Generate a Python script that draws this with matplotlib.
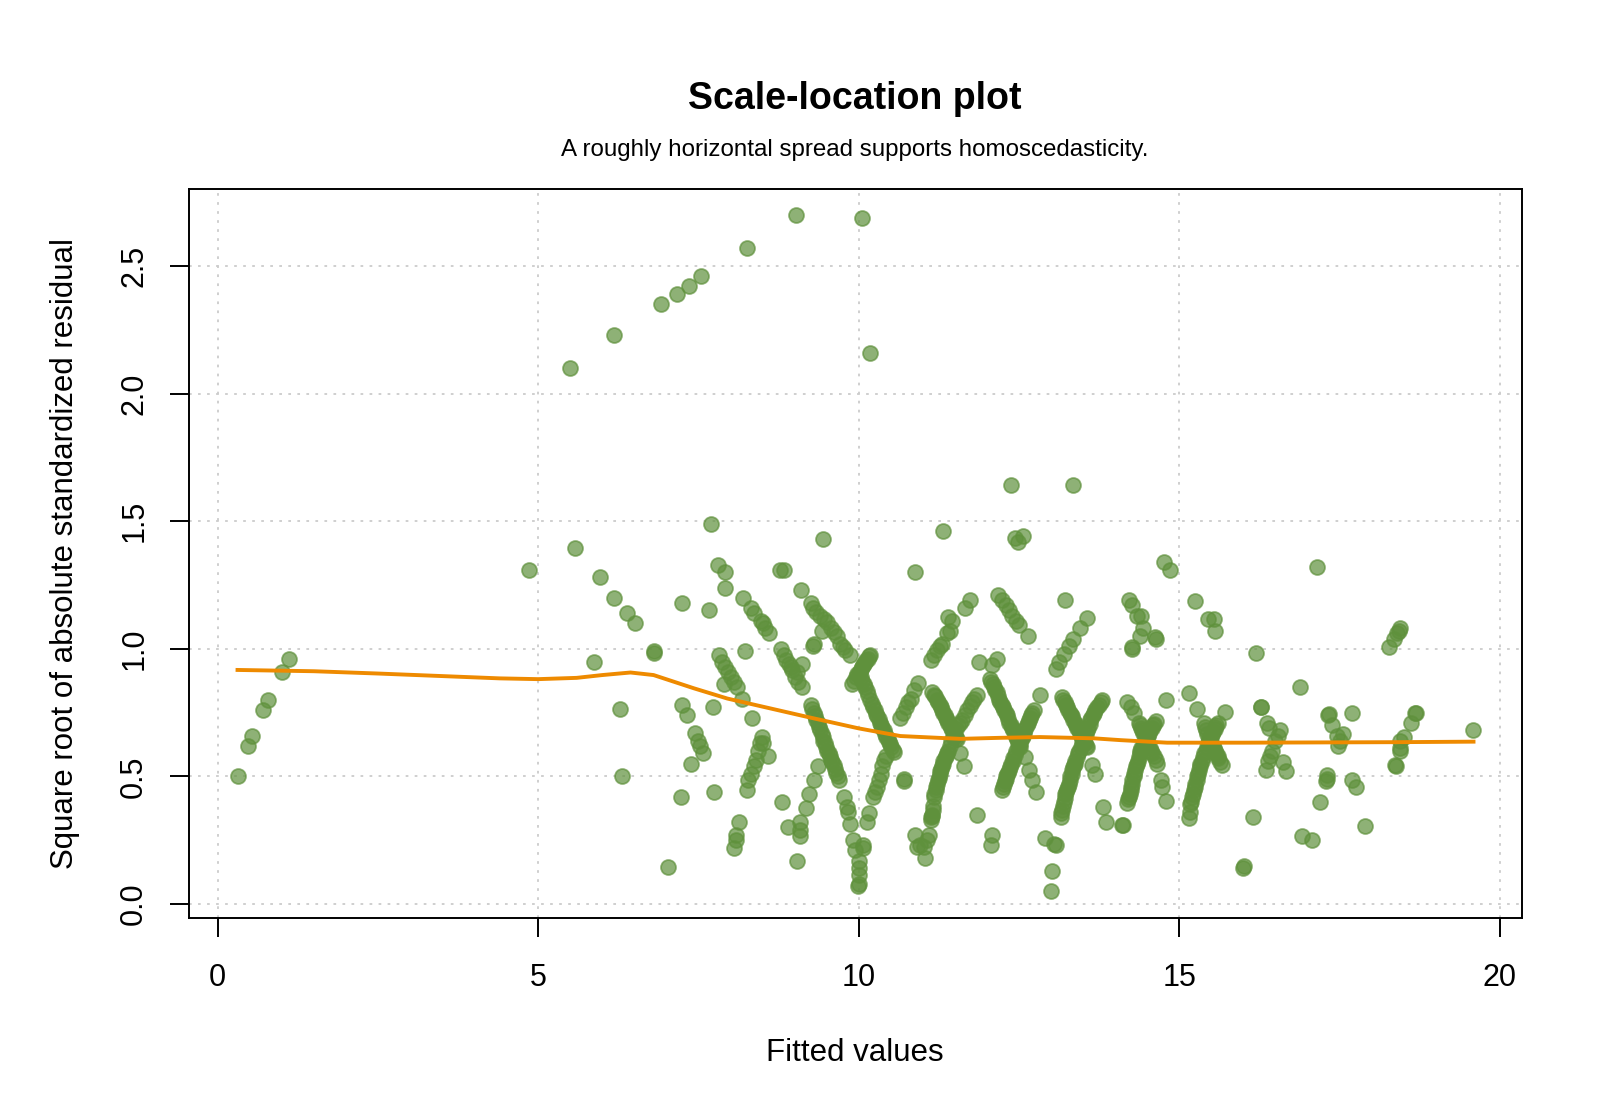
"""plot.py

Scale-location plot: square root of |standardized residual| against fitted
values, with a loess-style smoother drawn over the points.
"""

import numpy as np
import matplotlib

matplotlib.use("Agg")
import matplotlib.pyplot as plt


# --------------------------------------------------------------------------- #
# Data
# --------------------------------------------------------------------------- #
fitted = np.array([
    # low fitted values
    0.31, 0.47, 0.53, 0.71, 0.78, 1.01, 1.12,
    # upper outliers
    5.49, 6.18, 6.92, 7.16, 7.35, 7.54, 8.25, 9.02, 10.05, 10.18,
    # 4.8 - 8.8
    4.86, 5.57, 5.97, 6.19, 6.38, 6.51, 7.25, 7.67, 7.70, 7.81, 7.91, 7.91,
    8.20, 8.32, 8.36, 8.47, 8.51, 8.54, 8.60, 8.77,
    5.87, 6.80, 6.81, 8.22,
    7.82, 7.87, 7.92, 7.96, 8.01, 8.05, 8.10, 8.18, 7.90,
    6.27, 7.73, 8.34, 7.24, 7.32, 7.44, 7.50, 7.53, 7.57, 7.38, 6.31, 7.22, 7.75, 7.03,
    8.49, 8.51, 8.46, 8.58, 8.39, 8.36, 8.32, 8.28, 8.26, 8.43,
    8.13, 8.09, 8.08, 8.06, 8.81,
    # 8.8 - 11.9
    9.44, 8.84, 9.10,
    9.25, 9.28, 9.34, 9.40, 9.46, 9.51, 9.56, 9.61, 9.66, 9.71, 9.75, 9.79, 9.87,
    9.43, 9.30, 9.28,
    8.78, 8.83, 8.87, 8.91, 8.96, 9.01, 9.06, 9.12, 9.12, 8.94, 9.03,
    9.25, 9.30, 9.34, 9.38, 9.42, 9.45, 9.49, 9.53, 9.57, 9.61, 9.65, 9.69,
    9.36, 9.30, 9.22, 9.18,
    8.89, 9.09, 9.09, 9.09, 9.04,
    9.77, 9.81, 9.83, 9.87, 9.91, 9.94, 10.00, 10.01, 10.01, 9.99, 10.00,
    10.07, 10.06, 10.16, 10.13,
    9.90, 9.95, 10.00, 10.03, 10.06, 10.10, 10.14, 10.18,
    10.03, 10.08, 10.13, 10.18, 10.23, 10.27, 10.31, 10.35, 10.39, 10.43, 10.47, 10.51, 10.55,
    10.23, 10.26, 10.29, 10.31, 10.34, 10.36, 10.39, 10.42,
    10.70, 10.71,
    10.65, 10.69, 10.73, 10.77, 10.81, 10.87, 10.92,
    10.88, 11.32,
    11.12, 11.17, 11.22, 11.26, 11.30,
    11.40, 11.46, 11.37, 11.42,
    11.15, 11.19, 11.22, 11.26, 11.30, 11.34, 11.38, 11.42, 11.46, 11.50, 11.53, 11.58,
    11.12, 11.13, 11.15, 11.16, 11.17, 11.20, 11.22, 11.25, 11.27, 11.30, 11.32, 11.36,
    11.40, 11.44, 11.49, 11.55, 11.61, 11.69, 11.77, 11.84,
    10.88, 10.96, 10.91, 11.02, 11.04, 11.09, 11.06,
    11.64, 11.85,
    # 11.6 - 14.4
    12.37, 13.35, 12.44, 12.49, 12.57,
    11.73, 11.66,
    12.18, 12.23, 12.29, 12.34, 12.39, 12.45, 12.50, 12.64,
    13.22,
    13.07, 13.12, 13.20, 13.28, 13.35, 13.45, 13.56,
    11.87, 12.08, 12.16, 12.83,
    12.05, 12.09, 12.13, 12.17, 12.21, 12.25, 12.29, 12.33, 12.37, 12.41, 12.45, 12.49, 12.52,
    12.24, 12.27, 12.29, 12.32, 12.34, 12.38, 12.41, 12.46, 12.50, 12.54, 12.58, 12.62,
    12.65, 12.69, 12.73,
    12.60, 12.65, 12.71, 12.76,
    13.17, 13.21, 13.25, 13.29, 13.33, 13.37, 13.41, 13.45, 13.49, 13.53, 13.56,
    13.64, 13.68,
    13.15, 13.17, 13.20, 13.22, 13.25, 13.28, 13.30, 13.33, 13.36, 13.38, 13.42, 13.46,
    13.50, 13.54, 13.58, 13.61, 13.65, 13.69, 13.75, 13.80,
    12.08, 12.07, 12.91, 13.07, 13.05, 13.02, 13.00,
    13.81, 13.86, 14.11,
    14.21, 14.26, 14.34, 14.26,
    # 14.2 - 17.1
    14.76, 14.86, 14.41, 14.44, 14.39, 14.27, 14.64, 14.62,
    15.24, 15.45, 15.54, 15.56,
    16.20, 17.15, 16.89, 16.27, 16.28, 15.15, 15.28, 15.72, 14.80,
    14.19, 14.24, 14.29,
    14.37, 14.40, 14.44, 14.48, 14.52, 14.56, 14.60, 14.66,
    14.19, 14.21, 14.24, 14.26, 14.29, 14.31, 14.34, 14.37, 14.39, 14.43, 14.47, 14.51,
    14.55, 14.59, 14.63,
    14.71, 14.73, 14.80, 14.12,
    15.15, 15.17, 15.20, 15.23, 15.25, 15.28, 15.31, 15.33, 15.37, 15.41, 15.45, 15.49,
    15.53, 15.56, 15.60,
    15.38, 15.42, 15.46, 15.50, 15.54, 15.58, 15.61, 15.67,
    16.15, 16.01, 16.00,
    16.35, 16.38, 16.42, 16.45, 16.50, 16.54, 16.57, 16.37, 16.40,
    16.62, 16.66, 16.91, 17.07,
    # above 17
    17.32, 17.33, 17.39, 17.46, 17.56, 17.47, 17.50, 17.70,
    17.31, 17.29, 17.30, 17.70, 17.75, 17.20, 17.89,
    18.27, 18.35, 18.40, 18.45, 18.43,
    18.68, 18.69, 18.62, 18.50, 18.45, 18.45, 18.44, 18.38, 18.37,
    19.58,
])

sqrt_abs_resid = np.array([
    # low fitted values
    0.50, 0.62, 0.66, 0.76, 0.80, 0.91, 0.96,
    # upper outliers
    2.10, 2.23, 2.35, 2.39, 2.42, 2.46, 2.57, 2.70, 2.69, 2.16,
    # 4.8 - 8.8
    1.31, 1.395, 1.28, 1.20, 1.14, 1.10, 1.18, 1.15, 1.49, 1.33, 1.30, 1.24,
    1.20, 1.16, 1.14, 1.11, 1.10, 1.08, 1.06, 1.31,
    0.95, 0.985, 0.99, 0.99,
    0.975, 0.95, 0.93, 0.91, 0.89, 0.87, 0.85, 0.805, 0.86,
    0.765, 0.77, 0.73, 0.78, 0.74, 0.67, 0.64, 0.62, 0.59, 0.55, 0.50, 0.42, 0.44, 0.145,
    0.655, 0.63, 0.63, 0.58, 0.565, 0.54, 0.51, 0.485, 0.445, 0.60,
    0.32, 0.27, 0.25, 0.22, 0.40,
    # 8.8 - 11.9
    1.43, 1.31, 1.23,
    1.18, 1.16, 1.145, 1.13, 1.115, 1.105, 1.08, 1.065, 1.05, 1.02, 1.005, 0.995, 0.975,
    1.07, 1.02, 1.01,
    1.00, 0.975, 0.955, 0.94, 0.915, 0.89, 0.87, 0.85, 0.94, 0.93, 0.91,
    0.78, 0.75, 0.72, 0.695, 0.665, 0.64, 0.615, 0.59, 0.565, 0.545, 0.515, 0.485,
    0.54, 0.485, 0.43, 0.375,
    0.30, 0.32, 0.29, 0.265, 0.17,
    0.42, 0.38, 0.36, 0.315, 0.25, 0.21, 0.17, 0.14, 0.115, 0.07, 0.08,
    0.23, 0.22, 0.355, 0.32,
    0.86, 0.89, 0.905, 0.92, 0.935, 0.95, 0.96, 0.975,
    0.89, 0.86, 0.835, 0.80, 0.77, 0.745, 0.725, 0.70, 0.68, 0.655, 0.635, 0.615, 0.595,
    0.42, 0.44, 0.46, 0.485, 0.51, 0.54, 0.565, 0.58,
    0.49, 0.48,
    0.73, 0.75, 0.77, 0.79, 0.805, 0.84, 0.865,
    1.30, 1.46,
    0.955, 0.975, 0.995, 1.01, 1.02,
    1.125, 1.11, 1.06, 1.07,
    0.83, 0.815, 0.80, 0.78, 0.76, 0.74, 0.72, 0.70, 0.68, 0.66, 0.645, 0.59,
    0.33, 0.34, 0.35, 0.385, 0.42, 0.445, 0.47, 0.495, 0.52, 0.54, 0.56, 0.58,
    0.60, 0.64, 0.67, 0.70, 0.72, 0.76, 0.79, 0.82,
    0.27, 0.23, 0.225, 0.225, 0.18, 0.27, 0.25,
    0.54, 0.35,
    # 11.6 - 14.4
    1.64, 1.64, 1.435, 1.42, 1.44,
    1.19, 1.16,
    1.21, 1.19, 1.17, 1.15, 1.13, 1.11, 1.095, 1.05,
    1.19,
    0.92, 0.95, 0.98, 1.01, 1.04, 1.08, 1.12,
    0.95, 0.935, 0.96, 0.82,
    0.88, 0.86, 0.84, 0.815, 0.79, 0.77, 0.75, 0.725, 0.70, 0.68, 0.655, 0.635, 0.615,
    0.445, 0.47, 0.49, 0.51, 0.525, 0.55, 0.57, 0.60, 0.63, 0.65, 0.67, 0.70,
    0.72, 0.74, 0.76,
    0.577, 0.525, 0.485, 0.44,
    0.81, 0.79, 0.77, 0.75, 0.735, 0.71, 0.69, 0.67, 0.65, 0.63, 0.615,
    0.545, 0.51,
    0.34, 0.37, 0.40, 0.43, 0.45, 0.47, 0.50, 0.525, 0.545, 0.56, 0.59, 0.615,
    0.64, 0.665, 0.69, 0.72, 0.74, 0.76, 0.78, 0.80,
    0.27, 0.23, 0.26, 0.23, 0.235, 0.13, 0.05,
    0.38, 0.32, 0.31,
    1.19, 1.17, 1.13, 1.00,
    # 14.2 - 17.1
    1.34, 1.31, 1.13, 1.08, 1.05, 1.007, 1.04, 1.045,
    1.186, 1.115, 1.115, 1.07,
    0.985, 1.32, 0.85, 0.77, 0.77, 0.825, 0.765, 0.753, 0.80,
    0.79, 0.77, 0.75,
    0.71, 0.69, 0.67, 0.645, 0.62, 0.60, 0.58, 0.55,
    0.395, 0.42, 0.445, 0.47, 0.50, 0.525, 0.55, 0.575, 0.60, 0.62, 0.64, 0.66,
    0.68, 0.70, 0.715,
    0.485, 0.46, 0.405, 0.31,
    0.335, 0.39, 0.42, 0.445, 0.47, 0.50, 0.525, 0.55, 0.575, 0.60, 0.63, 0.655,
    0.675, 0.695, 0.71,
    0.71, 0.68, 0.65, 0.63, 0.61, 0.59, 0.57, 0.545,
    0.34, 0.15, 0.14,
    0.525, 0.56, 0.58, 0.60, 0.64, 0.66, 0.68, 0.71, 0.69,
    0.557, 0.52, 0.267, 0.25,
    # above 17
    0.74, 0.745, 0.70, 0.66, 0.665, 0.62, 0.64, 0.75,
    0.505, 0.48, 0.49, 0.486, 0.46, 0.40, 0.307,
    1.007, 1.04, 1.06, 1.08, 1.07,
    0.75, 0.75, 0.71, 0.655, 0.64, 0.60, 0.61, 0.54, 0.545,
    0.68,
])

# extra overlapping points inside the densest diagonal streaks
dense_fitted = np.array([
    10.05, 10.10, 10.15, 10.20, 10.25, 10.29, 10.33, 10.37, 10.41, 10.45, 10.49, 10.53,
    11.14, 11.16, 11.18, 11.21, 11.24, 11.26, 11.29, 11.31, 11.34, 11.38, 11.42, 11.47,
    11.52, 11.58, 11.65, 11.73, 11.80,
    11.17, 11.24, 11.28, 11.32, 11.36, 11.40, 11.44, 11.48, 11.52,
    12.07, 12.11, 12.15, 12.19, 12.23, 12.27, 12.31, 12.35, 12.39, 12.43, 12.47, 12.51,
    12.25, 12.28, 12.30, 12.33, 12.36, 12.40, 12.43, 12.48, 12.52, 12.56, 12.60, 12.64,
    12.67, 12.71,
    13.19, 13.23, 13.27, 13.31, 13.35, 13.39, 13.43, 13.47, 13.51, 13.55,
    13.16, 13.19, 13.21, 13.24, 13.27, 13.29, 13.32, 13.35, 13.37, 13.40, 13.44, 13.48,
    13.52, 13.56, 13.60, 13.63, 13.67, 13.72, 13.78,
    14.20, 14.23, 14.25, 14.27, 14.30, 14.33, 14.36, 14.38, 14.41, 14.45, 14.49, 14.53,
    14.57, 14.61,
    14.38, 14.42, 14.46, 14.50, 14.54, 14.58, 14.63,
    15.16, 15.18, 15.22, 15.24, 15.27, 15.30, 15.32, 15.35, 15.39, 15.43, 15.47, 15.51,
    15.55, 15.58,
    15.40, 15.44, 15.48, 15.52, 15.56, 15.60, 15.64,
    9.27, 9.32, 9.36, 9.40, 9.44, 9.47, 9.51, 9.55, 9.59, 9.63, 9.67,
    9.92, 9.97, 10.02, 10.05, 10.08, 10.12, 10.16,
])

dense_resid = np.array([
    0.875, 0.85, 0.82, 0.785, 0.76, 0.735, 0.71, 0.69, 0.665, 0.645, 0.625, 0.605,
    0.345, 0.37, 0.43, 0.46, 0.485, 0.51, 0.53, 0.55, 0.57, 0.59, 0.62, 0.655,
    0.685, 0.71, 0.74, 0.775, 0.805,
    0.82, 0.79, 0.77, 0.75, 0.73, 0.71, 0.69, 0.67, 0.65,
    0.87, 0.85, 0.83, 0.80, 0.78, 0.76, 0.74, 0.71, 0.69, 0.665, 0.645, 0.625,
    0.46, 0.48, 0.50, 0.515, 0.535, 0.56, 0.585, 0.615, 0.64, 0.66, 0.685, 0.71,
    0.73, 0.75,
    0.80, 0.78, 0.76, 0.74, 0.72, 0.70, 0.68, 0.66, 0.64, 0.62,
    0.355, 0.385, 0.415, 0.44, 0.46, 0.485, 0.51, 0.535, 0.55, 0.575, 0.60, 0.63,
    0.65, 0.68, 0.705, 0.73, 0.75, 0.77, 0.79,
    0.41, 0.43, 0.46, 0.485, 0.51, 0.54, 0.56, 0.59, 0.61, 0.63, 0.65, 0.67,
    0.69, 0.705,
    0.70, 0.68, 0.66, 0.63, 0.61, 0.59, 0.565,
    0.36, 0.40, 0.43, 0.46, 0.485, 0.51, 0.54, 0.56, 0.59, 0.615, 0.64, 0.665,
    0.685, 0.70,
    0.695, 0.665, 0.64, 0.62, 0.60, 0.58, 0.555,
    0.765, 0.735, 0.71, 0.68, 0.655, 0.63, 0.60, 0.58, 0.555, 0.53, 0.50,
    0.875, 0.90, 0.91, 0.93, 0.94, 0.955, 0.97,
])

# smoother through the points
smooth_x = [0.31, 1.5, 2.5, 3.5, 4.4, 5.0, 5.6, 6.0, 6.44, 6.8, 7.43, 7.95, 8.47,
            9.25, 10.0, 10.65, 11.07, 11.59, 12.2, 12.83, 13.67, 14.08, 14.81,
            16.0, 17.2, 18.4, 19.59]
smooth_y = [0.917, 0.912, 0.903, 0.893, 0.884, 0.881, 0.886, 0.897, 0.907, 0.897,
            0.845, 0.805, 0.775, 0.73, 0.688, 0.658, 0.653, 0.647, 0.651, 0.654,
            0.649, 0.642, 0.632, 0.632, 0.633, 0.634, 0.636]

x_ticks = [0, 5, 10, 15, 20]
y_ticks = [0.0, 0.5, 1.0, 1.5, 2.0, 2.5]

POINT_COLOR = "#5F913C"
LINE_COLOR = "#EE8A00"


# --------------------------------------------------------------------------- #
# Plot
# --------------------------------------------------------------------------- #
plt.rcParams["font.family"] = ["Liberation Sans", "DejaVu Sans"]

fig = plt.figure(figsize=(16, 11.08), dpi=100)
ax = fig.add_axes([0.118, 0.1715, 0.833, 0.6575])

ax.set_xlim(-0.45, 20.34)
ax.set_ylim(-0.055, 2.80)

ax.set_xticks(x_ticks)
ax.set_yticks(y_ticks)
ax.set_yticklabels([f"{v:.1f}" for v in y_ticks], rotation=90, va="center")
ax.grid(True, color="#CCCCCC", linestyle=(0, (1.5, 3.5)), linewidth=1.3)
ax.set_axisbelow(True)

all_x = np.concatenate([fitted, dense_fitted])
all_y = np.concatenate([sqrt_abs_resid, dense_resid])
ax.scatter(all_x, all_y, s=115, color=POINT_COLOR, alpha=0.7,
           linewidths=1.3, edgecolors=POINT_COLOR, zorder=3)
ax.plot(smooth_x, smooth_y, color=LINE_COLOR, linewidth=2.8, zorder=4)

for side in ax.spines.values():
    side.set_linewidth(1.4)
ax.tick_params(axis="both", length=13.5, width=1.4, labelsize=22)
ax.tick_params(axis="x", pad=19)
ax.tick_params(axis="y", pad=15)

ax.set_xlabel("Fitted values", fontsize=22.5, labelpad=32)
ax.set_ylabel("Square root of absolute standardized residual", fontsize=22.5,
              labelpad=28)

fig.text(0.534, 0.911, "Scale-location plot", ha="center", va="center",
         fontsize=27, fontweight="bold")
fig.text(0.534, 0.865, "A roughly horizontal spread supports homoscedasticity.",
         ha="center", va="center", fontsize=17.4)

fig.savefig("out.png", dpi=100)
